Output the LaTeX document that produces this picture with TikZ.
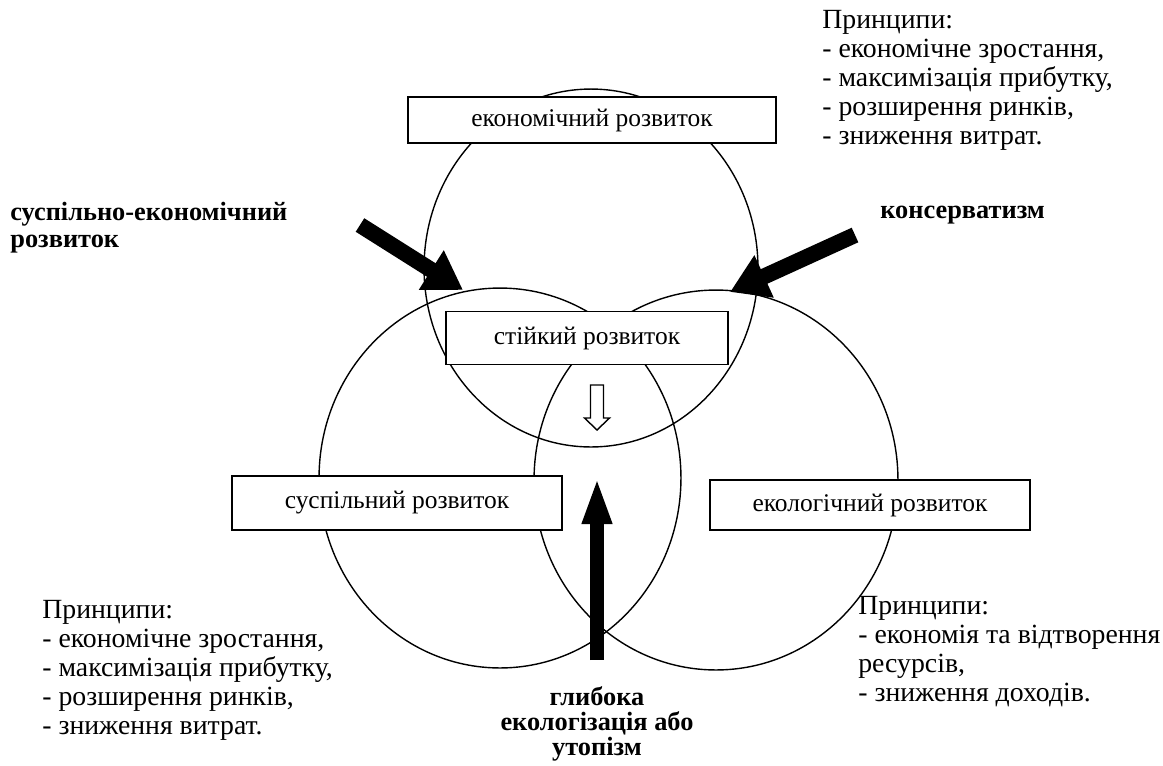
\documentclass[tikz,border=0pt]{standalone}
\usepackage{fontspec}
\setmainfont{Liberation Serif}
\usetikzlibrary{arrows.meta}
\tikzset{
	devbox/.style={draw,thick,fill=white,inner sep=0pt,font=\fontsize{14.5}{16}\selectfont},
	principles/.style={anchor=north west,align=left,inner sep=0pt,font=\fontsize{15.8}{16.5}\selectfont},
	boldlabel/.style={align=left,inner sep=0pt,font=\fontsize{15}{15.3}\selectfont\bfseries},
	fatarrow/.style={line width=0.32cm,-{Triangle[length=0.75cm,width=0.88cm]}},
}
\begin{document}
\begin{tikzpicture}[x=0.02cm,y=-0.02cm]
	\useasboundingbox (0,0) rectangle (1163,765);
	%CIRCLES
	\draw[thick] (591,268) ellipse [x radius=3.34cm,y radius=3.58cm];	%economy
	\draw[thick] (500,478) ellipse [x radius=3.62cm,y radius=3.8cm];	%society
	\draw[thick] (716,480) ellipse [x radius=3.64cm,y radius=3.8cm];	%ecology
	%
	%BOXES
	\node[devbox,minimum width=7.36cm,minimum height=0.92cm] (econ) at (592,120) {економічний розвиток};
	\node[devbox,minimum width=5.64cm,minimum height=1.06cm] (stable) at (587,338) {стійкий розвиток};
	\node[devbox,minimum width=6.6cm,minimum height=1.08cm] (social) at (397,503) {суспільний розвиток};
	\node[devbox,minimum width=6.4cm,minimum height=1.0cm] (ecol) at (870,505) {екологічний розвиток};
	%
	%ARROWS
	\coordinate (lefttail) at (360,225);
	\coordinate (lefttip) at (463,290);
	\coordinate (righttail) at (855,235);
	\coordinate (righttip) at (730,292);
	\coordinate (uptail) at (597,660);
	\coordinate (uptip) at (597,477);
	\draw[fatarrow] (lefttail)--(lefttip);
	\draw[fatarrow] (righttail)--(righttip);
	\draw[line width=0.27cm,-{Triangle[length=0.94cm,width=0.54cm]}] (uptail)--(uptip);
	\coordinate (down) at (597,385);
	\draw[thick,fill=white] (down) ++(-6.5,0)--++(13,0)--++(0,33)--++(6,0)--(597,430)--(584.5,418)--(590.5,418)--cycle;
	%
	%CAPTIONS
	\node[principles] (econtext) at (822,10) {Принципи:\\- економічне зростання,\\- максимізація прибутку,\\- розширення ринків,\\- зниження витрат.};
	\node[principles] (socialtext) at (42,600) {Принципи:\\- економічне зростання,\\- максимізація прибутку,\\- розширення ринків,\\- зниження витрат.};
	\node[principles] (ecoltext) at (858,596) {Принципи:\\- економія та відтворення\\ресурсів,\\- зниження доходів.};
	%
	\node[boldlabel,anchor=north west] (socecon) at (10,202) {суспільно-економічний\\розвиток};
	\node[boldlabel,anchor=west] (conserv) at (880,215) {консерватизм};
	\node[boldlabel,align=center,anchor=north,font=\fontsize{15}{14.2}\selectfont\bfseries] (deep) at (597,686) {глибока\\екологізація або\\утопізм};
\end{tikzpicture}
\end{document}
